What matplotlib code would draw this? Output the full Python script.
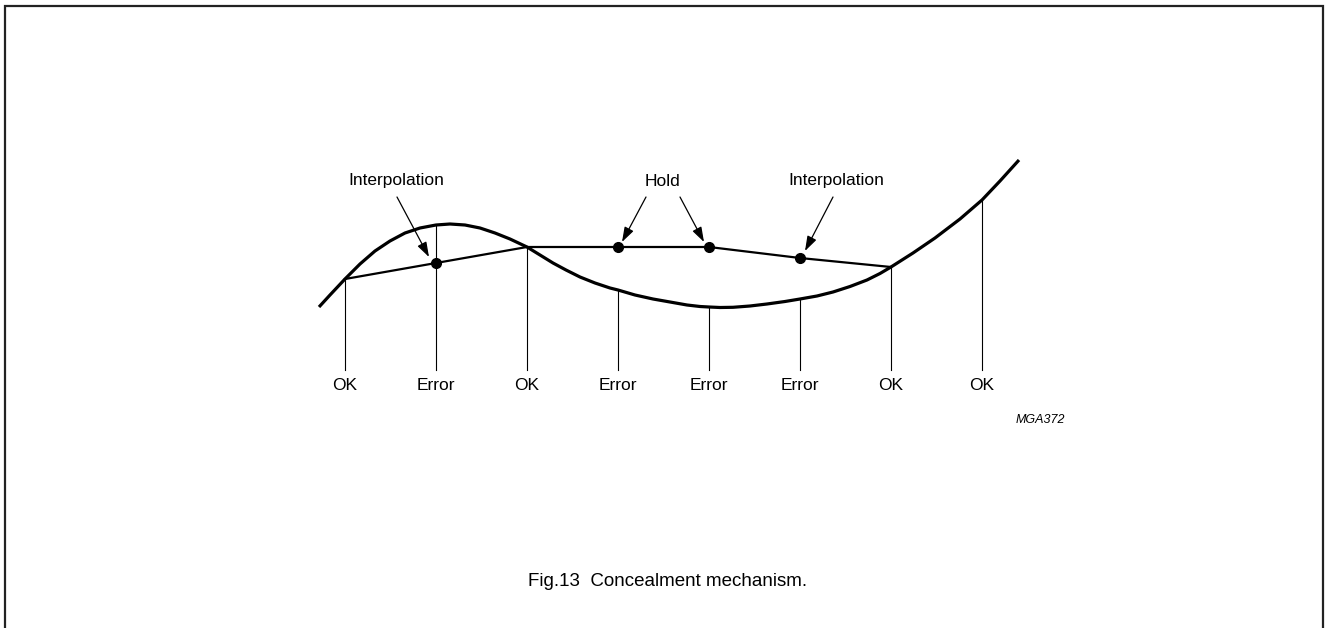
import matplotlib
matplotlib.use("Agg")
import matplotlib.pyplot as plt

plt.rcParams['font.family'] = ['Liberation Sans', 'DejaVu Sans']

# ---- data (diagram units, y grows downward) ----
sample_x = [345, 436, 527, 618, 709, 800, 891, 982]
sample_status = ['OK', 'Error', 'OK', 'Error', 'Error', 'Error', 'OK', 'OK']
signal_at_sample = [279, 225, 247, 290, 307, 299, 267, 200]

# concealed output for the first seven samples
concealed_x = [345, 436, 527, 618, 709, 800, 891]
concealed_y = [279, 263, 247, 247, 247, 258, 267]
dot_x = [436, 618, 709, 800]
dot_y = [263, 247, 247, 258]

curve_x = [319, 330, 345, 360, 375, 390, 405, 420, 436, 450, 465, 480, 495,
           510, 527, 540, 553, 566, 580, 595, 610, 618, 635, 653, 670, 687,
           700, 709, 720, 733, 750, 767, 785, 800, 817, 833, 850, 867, 880,
           891, 913, 935, 960, 982, 1000, 1019]
curve_y = [307, 295, 279, 264, 251, 241, 233, 228, 225, 224, 225, 228, 233,
           239, 247, 255, 263, 270, 277, 283, 288, 290, 295, 299, 302, 305,
           306.5, 307, 307.5, 307.3, 306, 304, 301.5, 299, 296, 292, 286.5,
           280, 273.5, 267, 253, 238, 219, 200, 181, 160]

annot_labels = ['Interpolation', 'Hold', 'Interpolation']
annot_pos = [(396, 181), (662, 181), (836, 181)]
arrow_tails = [[(397, 197)], [(646, 197), (680, 197)], [(833, 197)]]
arrow_tips = [[(429, 257)], [(622, 242), (704, 242)], [(805, 251)]]

base_y = 370
label_y = 385
caption = 'Fig.13  Concealment mechanism.'
code = 'MGA372'

W, H = 1326, 628
fig = plt.figure(figsize=(W / 100, H / 100), dpi=100)
ax = fig.add_axes([0, 0, 1, 1])
ax.set_xlim(0, W)
ax.set_ylim(H, 0)
ax.axis('off')

# frame (left, top, right)
ax.plot([5, 5, 1323, 1323], [H + 5, 6, 6, H + 5], color='#222222', lw=1.6,
        solid_joinstyle='miter')

# sample lines
for x, y in zip(sample_x, signal_at_sample):
    ax.plot([x, x], [y, base_y], color='black', lw=0.8)

# signal curve
ax.plot(curve_x, curve_y, color='black', lw=2.3, solid_capstyle='butt',
        solid_joinstyle='round', antialiased=True)

# concealed output
ax.plot(concealed_x, concealed_y, color='black', lw=1.6)
ax.plot(dot_x, dot_y, 'o', color='black', markersize=7)

# status labels
for x, s in zip(sample_x, sample_status):
    ax.text(x, label_y, s, ha='center', va='center', fontsize=12.5)

# annotations
for lab, pos, tails, tips in zip(annot_labels, annot_pos, arrow_tails, arrow_tips):
    ax.text(pos[0], pos[1], lab, ha='center', va='center', fontsize=12.5)
    for t, p in zip(tails, tips):
        ax.annotate('', xy=p, xytext=t,
                    arrowprops=dict(arrowstyle='-|>,head_length=0.9,head_width=0.3',
                                    color='black', lw=0.9, shrinkA=0, shrinkB=0))

ax.text(1040, 420, code, ha='center', va='center', fontsize=9, style='italic')
ax.text(668, 581, caption, ha='center', va='center', fontsize=13.5)

fig.savefig('out.png', dpi=100)
